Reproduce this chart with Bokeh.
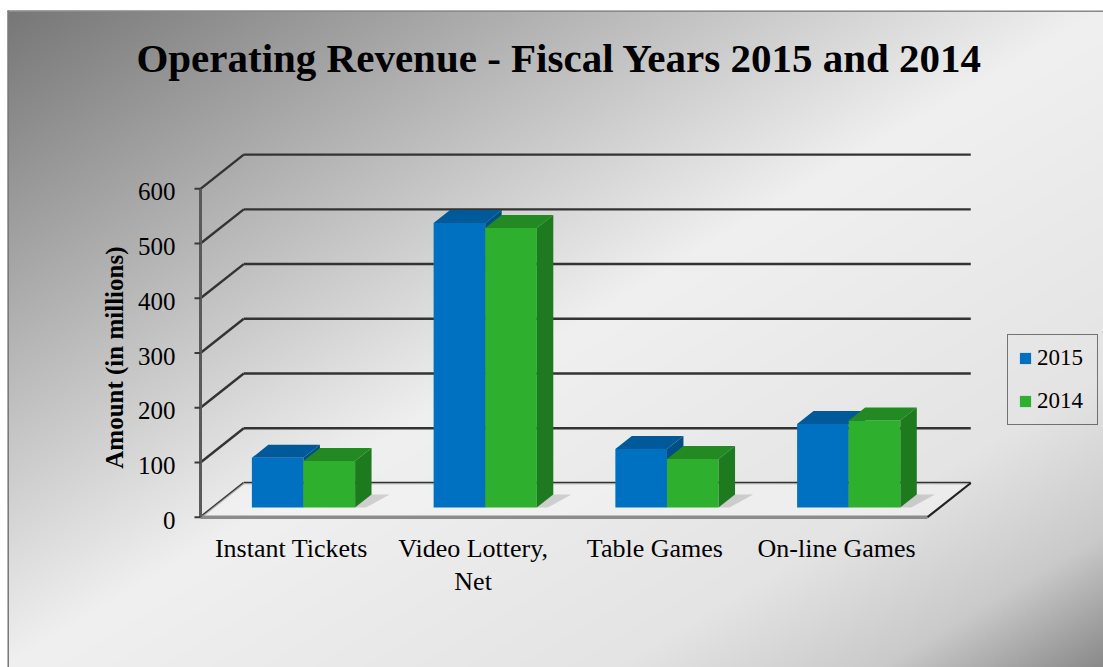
import numpy as np
from bokeh.plotting import figure
from bokeh.models import Range1d, Legend, LegendItem, ColumnDataSource
from bokeh.core.properties import value
from bokeh.embed import file_html
from bokeh.resources import INLINE

# ---------------- data ----------------
categories = ["Instant Tickets", "Video Lottery,\nNet", "Table Games", "On-line Games"]
series_names = ["2015", "2014"]
values_2015 = [91, 520, 107, 153]
values_2014 = [85, 511, 89, 159]
y_ticks = [0, 100, 200, 300, 400, 500, 600]
y_tick_labels = ["0", "100", "200", "300", "400", "500", "600"]
title_text = "Operating Revenue - Fiscal Years 2015 and 2014"
y_title = "Amount  (in millions)"

# ---------------- layout / style ----------------
W, H = 1103, 667
PX_U = 181.75               # pixels per category unit
PX_V = 0.5473               # pixels per value unit
X0, Y0 = 200.0, 516.7       # screen position of (u=0, v=0)
DX, DV = 0.238, 62.5        # full depth vector in data units
F_FRONT, F_BACK = 0.28, 0.66  # bar depth span
BAR_W = 0.284

def u_of(px):
    return (px - X0) / PX_U

def v_of(py):
    return (Y0 - py) / PX_V

FONT = value("Liberation Serif")
BLUE = ("#0070C0", "#005A9A", "#004E86")
GREEN = ("#2EAF2E", "#238A23", "#1E7A1E")
GRID = "#333333"

x_start, x_end = u_of(0), u_of(W)
y_start, y_end = v_of(H), v_of(0)

p = figure(width=W, height=H, x_range=Range1d(x_start, x_end), y_range=Range1d(y_start, y_end),
           output_backend="svg", toolbar_location=None, min_border=0,
           x_axis_location=None, y_axis_location=None, title=None)
p.grid.visible = False
p.outline_line_color = None
p.background_fill_color = "white"
p.border_fill_color = "white"

# ---------------- background gradient ----------------
gx0, gy0 = 7.0, 10.0
gh, gw = 330, 548
ys = np.linspace(H, gy0, gh)           # row 0 = bottom
xs = np.linspace(gx0, W, gw)
XX, YY = np.meshgrid(xs, ys)
t = 0.5 * (XX - gx0) / (W - gx0) + 0.5 * (YY - gy0) / (H - gy0)
stops_t = [0.0, 0.5, 0.78, 0.9, 1.0]
stops_c = [119, 240, 228, 202, 138]
g = np.interp(t, stops_t, stops_c).astype(np.uint32)
img = (255 << 24) | (g << 16) | (g << 8) | g
p.image_rgba(image=[img.astype(np.uint32)], x=u_of(gx0), y=y_start,
             dw=x_end - u_of(gx0), dh=v_of(gy0) - y_start)
# thin frame border
p.line([u_of(gx0), x_end], [v_of(gy0 + 0.75), v_of(gy0 + 0.75)], line_color="#8a8a8a", line_width=1.5)
p.line([u_of(gx0 + 0.75), u_of(gx0 + 0.75)], [y_start, v_of(gy0)], line_color="#7a7a7a", line_width=1.5)

n = len(categories)

# ---------------- walls (gridlines) ----------------
p.multi_line(xs=[[DX, n + DX] for t_ in y_ticks], ys=[[t_ + DV, t_ + DV] for t_ in y_ticks],
             line_color=GRID, line_width=2.4)
p.multi_line(xs=[[0, DX] for t_ in y_ticks], ys=[[t_, t_ + DV] for t_ in y_ticks],
             line_color=GRID, line_width=2.4)

# ---------------- floor ----------------
p.patch([0, n, n + DX, DX], [0, 0, DV, DV], fill_color="#f4f4f4", fill_alpha=0.6, line_color=None)
p.line([0, n], [0, 0], line_color="#8c8c8c", line_width=3.5)
p.line([n, n + DX], [0, DV], line_color="#222222", line_width=2.2)

# ---------------- y axis ----------------
p.line([0, 0], [y_ticks[0], y_ticks[-1]], line_color="#5a5a5a", line_width=3)
p.segment(x0=[0] * len(y_ticks), y0=y_ticks, x1=[u_of(X0 - 6)] * len(y_ticks), y1=y_ticks,
          line_color="#3a3a3a", line_width=2)
p.text(x=[0] * len(y_ticks), y=y_ticks, text=y_tick_labels, x_offset=-25, y_offset=3,
       text_align="right", text_baseline="middle", text_font=FONT, text_font_size="25px",
       text_color="black")
p.text(x=[u_of(114)], y=[v_of(354)], text=[y_title], angle=np.pi / 2, text_align="center",
       text_baseline="middle", text_font=FONT, text_font_size="25px", text_font_style="bold",
       text_color="black")

# ---------------- category labels ----------------
p.text(x=[i + 0.5 for i in range(n)], y=[0] * n, text=categories, y_offset=17,
       text_align="center", text_baseline="top", text_font=FONT, text_font_size="26px",
       text_color="black", text_line_height=1.12)

# ---------------- title ----------------
p.text(x=[u_of(559)], y=[v_of(57)], text=[title_text], text_align="center",
       text_baseline="middle", text_font=FONT, text_font_size="41px", text_font_style="bold",
       text_color="black")

# ---------------- bars ----------------
def boxes(vals, offset):
    u0 = [i + 0.5 + offset for i in range(len(vals))]
    u1 = [a + BAR_W for a in u0]
    ff, fb = F_FRONT, F_BACK
    front = dict(left=[a + ff * DX for a in u0], right=[b + ff * DX for b in u1],
                 bottom=[ff * DV] * len(vals), top=[v + ff * DV for v in vals])
    top_x = [[a + ff * DX, b + ff * DX, b + fb * DX, a + fb * DX] for a, b in zip(u0, u1)]
    top_y = [[v + ff * DV, v + ff * DV, v + fb * DV, v + fb * DV] for v in vals]
    side_x = [[b + ff * DX, b + ff * DX, b + fb * DX, b + fb * DX] for b in u1]
    side_y = [[ff * DV, v + ff * DV, v + fb * DV, fb * DV] for v in vals]
    shadow_x = [[b + ff * DX, b + ff * DX + 0.06, b + fb * DX + 0.1, b + fb * DX] for b in u1]
    shadow_y = [[ff * DV, ff * DV, fb * DV, fb * DV] for _ in vals]
    return front, (top_x, top_y), (side_x, side_y), (shadow_x, shadow_y)

renderers = []
for vals, off, cols in [(values_2015, -BAR_W, BLUE), (values_2014, 0.0, GREEN)]:
    front, top, side, shadow = boxes(vals, off)
    if cols is GREEN:
        p.patches(xs=shadow[0], ys=shadow[1], fill_color="black", fill_alpha=0.14, line_color=None)
    r = p.quad(source=ColumnDataSource(front), left="left", right="right", bottom="bottom", top="top",
               fill_color=cols[0], line_color=None)
    p.patches(xs=top[0], ys=top[1], fill_color=cols[1], line_color=None)
    p.patches(xs=side[0], ys=side[1], fill_color=cols[2], line_color=None)
    renderers.append(r)

legend = Legend(items=[LegendItem(label=series_names[0], renderers=[renderers[0]]),
                       LegendItem(label=series_names[1], renderers=[renderers[1]])],
                location=(1007, 242), orientation="vertical")
legend.label_text_font = "Liberation Serif"
legend.label_text_font_size = "23px"
legend.label_text_color = "black"
legend.glyph_width = 14
legend.glyph_height = 14
legend.label_standoff = 5
legend.label_width = 50
legend.padding = 10
legend.spacing = 17
legend.margin = 0
legend.border_line_color = "black"
legend.border_line_width = 1.5
legend.background_fill_alpha = 0
p.add_layout(legend)

open("out.html", "w").write(file_html(p, INLINE))
